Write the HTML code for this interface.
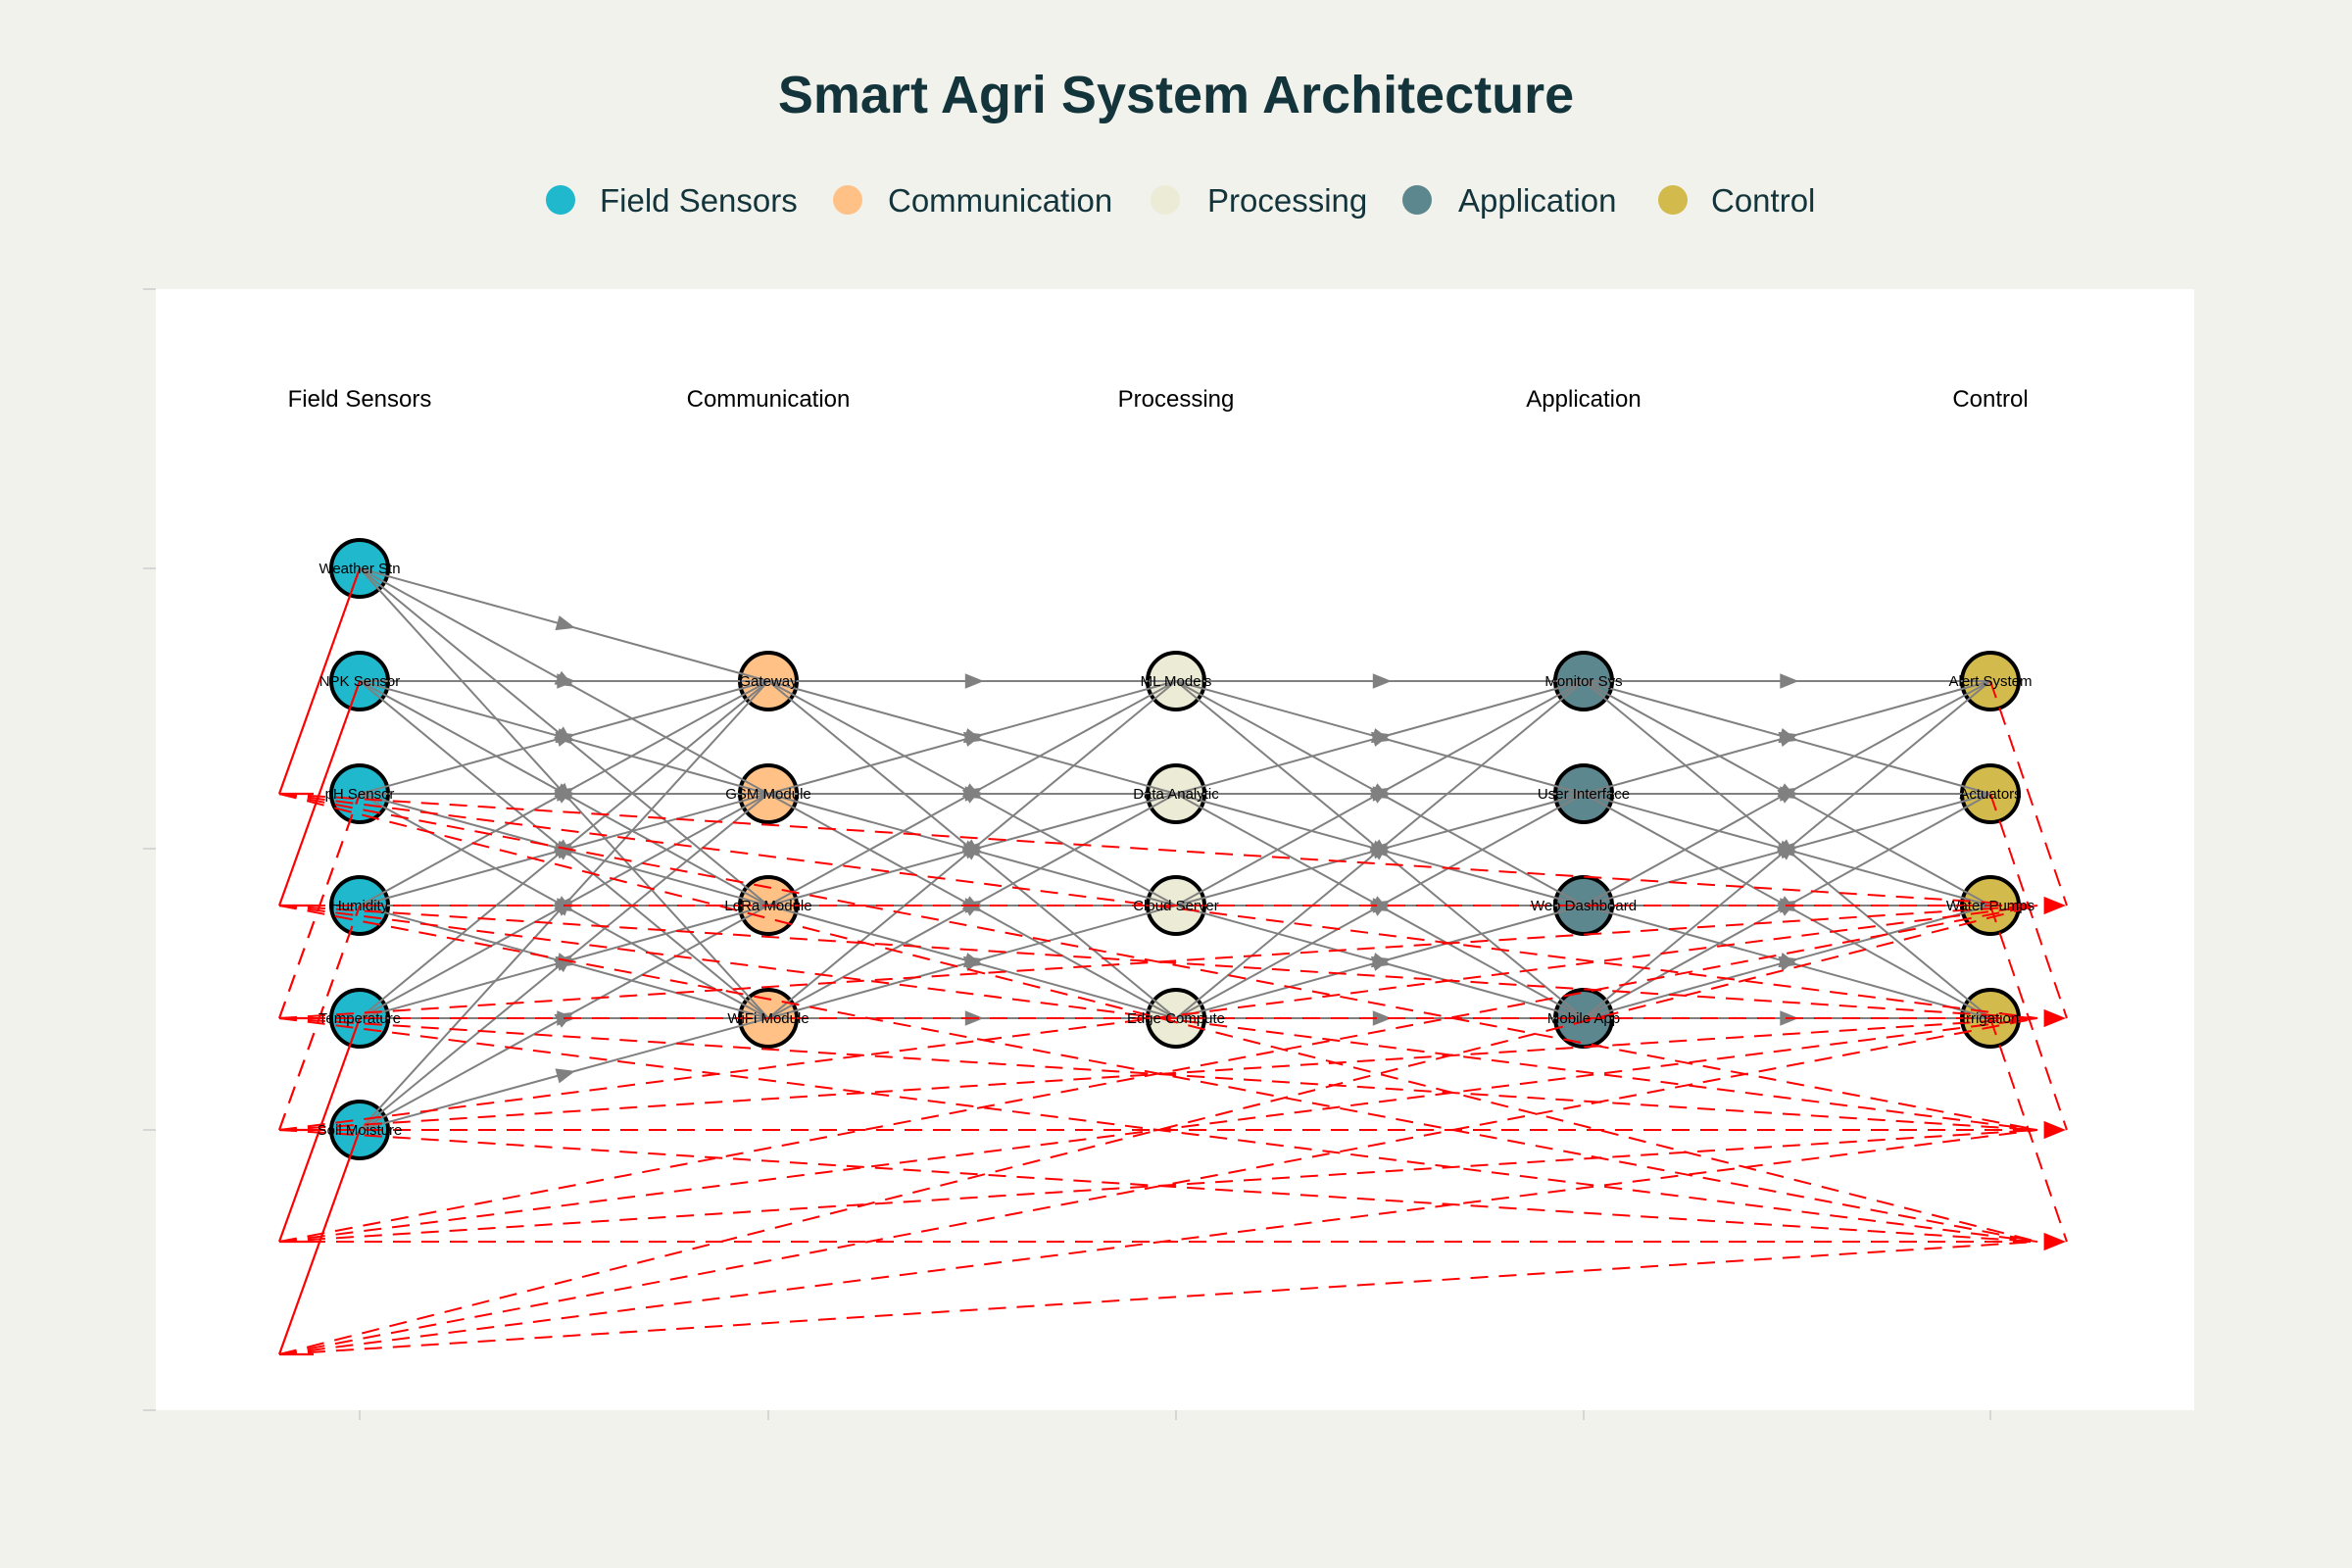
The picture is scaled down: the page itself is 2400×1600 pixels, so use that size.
<!DOCTYPE html>
<html><head><meta charset="utf-8"><style>
html,body{margin:0;padding:0;background:#f2f2ed;}
svg{display:block;font-family:"Liberation Sans",sans-serif;}
</style></head><body>
<svg id="s" width="2400" height="1600" viewBox="0 0 2400 1600" xmlns="http://www.w3.org/2000/svg">
<rect width="2400" height="1600" fill="#f2f2ed"/>
<text x="1200" y="115" text-anchor="middle" font-size="54" font-weight="bold" fill="#13343b">Smart Agri System Architecture</text>
<g font-size="33" fill="#13343b">
<circle cx="572" cy="204" r="15" fill="#1fb8cd"/><text x="612" y="216">Field Sensors</text>
<circle cx="865" cy="204" r="15" fill="#ffc185"/><text x="906" y="216">Communication</text>
<circle cx="1189" cy="204" r="15" fill="#ecebd5"/><text x="1232" y="216">Processing</text>
<circle cx="1446" cy="204" r="15" fill="#5d878f"/><text x="1488" y="216">Application</text>
<circle cx="1707" cy="204" r="15" fill="#d2ba4c"/><text x="1746" y="216">Control</text>
</g>
<rect x="159" y="295" width="2080" height="1144" fill="#fff"/>
<g stroke="#ccc" stroke-width="1.5">
<line x1="146" y1="295" x2="159" y2="295"/><line x1="146" y1="580" x2="159" y2="580"/><line x1="146" y1="866" x2="159" y2="866"/><line x1="146" y1="1153" x2="159" y2="1153"/><line x1="146" y1="1439" x2="159" y2="1439"/>
<line x1="367" y1="1439" x2="367" y2="1449"/><line x1="784" y1="1439" x2="784" y2="1449"/><line x1="1200" y1="1439" x2="1200" y2="1449"/><line x1="1616" y1="1439" x2="1616" y2="1449"/><line x1="2031" y1="1439" x2="2031" y2="1449"/>
</g>
<g font-size="24" fill="#000" text-anchor="middle">
<text x="367" y="415">Field Sensors</text><text x="784" y="415">Communication</text><text x="1200" y="415">Processing</text><text x="1616" y="415">Application</text><text x="2031" y="415">Control</text>
</g>
<g id="nodes" stroke="#000" stroke-width="4">
<circle cx="367" cy="580" r="29" fill="#1fb8cd"/><circle cx="367" cy="695" r="29" fill="#1fb8cd"/><circle cx="367" cy="810" r="29" fill="#1fb8cd"/><circle cx="367" cy="924" r="29" fill="#1fb8cd"/><circle cx="367" cy="1039" r="29" fill="#1fb8cd"/><circle cx="367" cy="1153" r="29" fill="#1fb8cd"/>
<circle cx="784" cy="695" r="29" fill="#ffc185"/><circle cx="784" cy="810" r="29" fill="#ffc185"/><circle cx="784" cy="924" r="29" fill="#ffc185"/><circle cx="784" cy="1039" r="29" fill="#ffc185"/>
<circle cx="1200" cy="695" r="29" fill="#ecebd5"/><circle cx="1200" cy="810" r="29" fill="#ecebd5"/><circle cx="1200" cy="924" r="29" fill="#ecebd5"/><circle cx="1200" cy="1039" r="29" fill="#ecebd5"/>
<circle cx="1616" cy="695" r="29" fill="#5d878f"/><circle cx="1616" cy="810" r="29" fill="#5d878f"/><circle cx="1616" cy="924" r="29" fill="#5d878f"/><circle cx="1616" cy="1039" r="29" fill="#5d878f"/>
<circle cx="2031" cy="695" r="29" fill="#d2ba4c"/><circle cx="2031" cy="810" r="29" fill="#d2ba4c"/><circle cx="2031" cy="924" r="29" fill="#d2ba4c"/><circle cx="2031" cy="1039" r="29" fill="#d2ba4c"/>
</g>
<g id="lines"></g>
<g font-size="15" fill="#000" text-anchor="middle">
<text x="367" y="585">Weather Stn</text><text x="367" y="700">NPK Sensor</text><text x="367" y="815">pH Sensor</text><text x="367" y="929">Humidity</text><text x="367" y="1044">Temperature</text><text x="367" y="1158">Soil Moisture</text>
<text x="784" y="700">Gateway</text><text x="784" y="815">GSM Module</text><text x="784" y="929">LoRa Module</text><text x="784" y="1044">WiFi Module</text>
<text x="1200" y="700">ML Models</text><text x="1200" y="815">Data Analytic</text><text x="1200" y="929">Cloud Server</text><text x="1200" y="1044">Edge Compute</text>
<text x="1616" y="700">Monitor Sys</text><text x="1616" y="815">User Interface</text><text x="1616" y="929">Web Dashboard</text><text x="1616" y="1044">Mobile App</text>
<text x="2031" y="700">Alert System</text><text x="2031" y="815">Actuators</text><text x="2031" y="929">Water Pumps</text><text x="2031" y="1044">Irrigation</text>
</g>
<script>
(function(){
var NS="http://www.w3.org/2000/svg",g=document.getElementById("lines");
var Y=[580,695,810,924,1039,1153,1267,1382];var X=[367,784,1200,1616,2031];
function el(n,a){var e=document.createElementNS(NS,n);for(var k in a)e.setAttribute(k,a[k]);g.appendChild(e);return e;}
function arrow(x1,y1,x2,y2,c,s,t){var dx=x2-x1,dy=y2-y1,L=Math.sqrt(dx*dx+dy*dy),ux=dx/L,uy=dy/L;var mx=x1+dx*t,my=y1+dy*t;
var p=[mx+ux*s,my+uy*s,mx-ux*s*0.6-uy*s*0.65,my-uy*s*0.6+ux*s*0.65,mx-ux*s*0.6+uy*s*0.65,my-uy*s*0.6-ux*s*0.65];
el("polygon",{points:p.join(","),fill:c});}
function gl(x1,y1,x2,y2){el("line",{x1:x1,y1:y1,x2:x2,y2:y2,stroke:"#808080","stroke-width":2});arrow(x1,y1,x2,y2,"#808080",12,0.5);}
var i,j,c;
for(i=0;i<6;i++)for(j=1;j<5;j++)gl(X[0],Y[i],X[1],Y[j]);
for(c=1;c<4;c++)for(i=1;i<5;i++)for(j=1;j<5;j++)gl(X[c],Y[i],X[c+1],Y[j]);
var LX=285,RX=2109;
function rd(x1,y1,x2,y2){el("line",{x1:x1,y1:y1,x2:x2,y2:y2,stroke:"#ff0000","stroke-width":2,"stroke-dasharray":"18,11"});}
for(i=2;i<8;i++)for(j=3;j<7;j++){rd(LX,Y[i],RX-30,Y[j]);}
for(j=3;j<7;j++)arrow(RX-30,Y[j],RX,Y[j],"#ff0000",14,0.5);
for(i=1;i<5;i++)rd(X[4],Y[i],RX,Y[i+2]);
for(i=2;i<8;i++){var solid=(i!=4&&i!=5);
var a={x1:LX,y1:Y[i],x2:X[0],y2:Y[i-2],stroke:"#ff0000","stroke-width":2.2};if(!solid)a["stroke-dasharray"]="18,11";el("line",a);
el("line",{x1:LX,y1:Y[i],x2:LX+35,y2:Y[i],stroke:"#ff0000","stroke-width":2.2});}
})();
</script>
</svg>
</body></html>
